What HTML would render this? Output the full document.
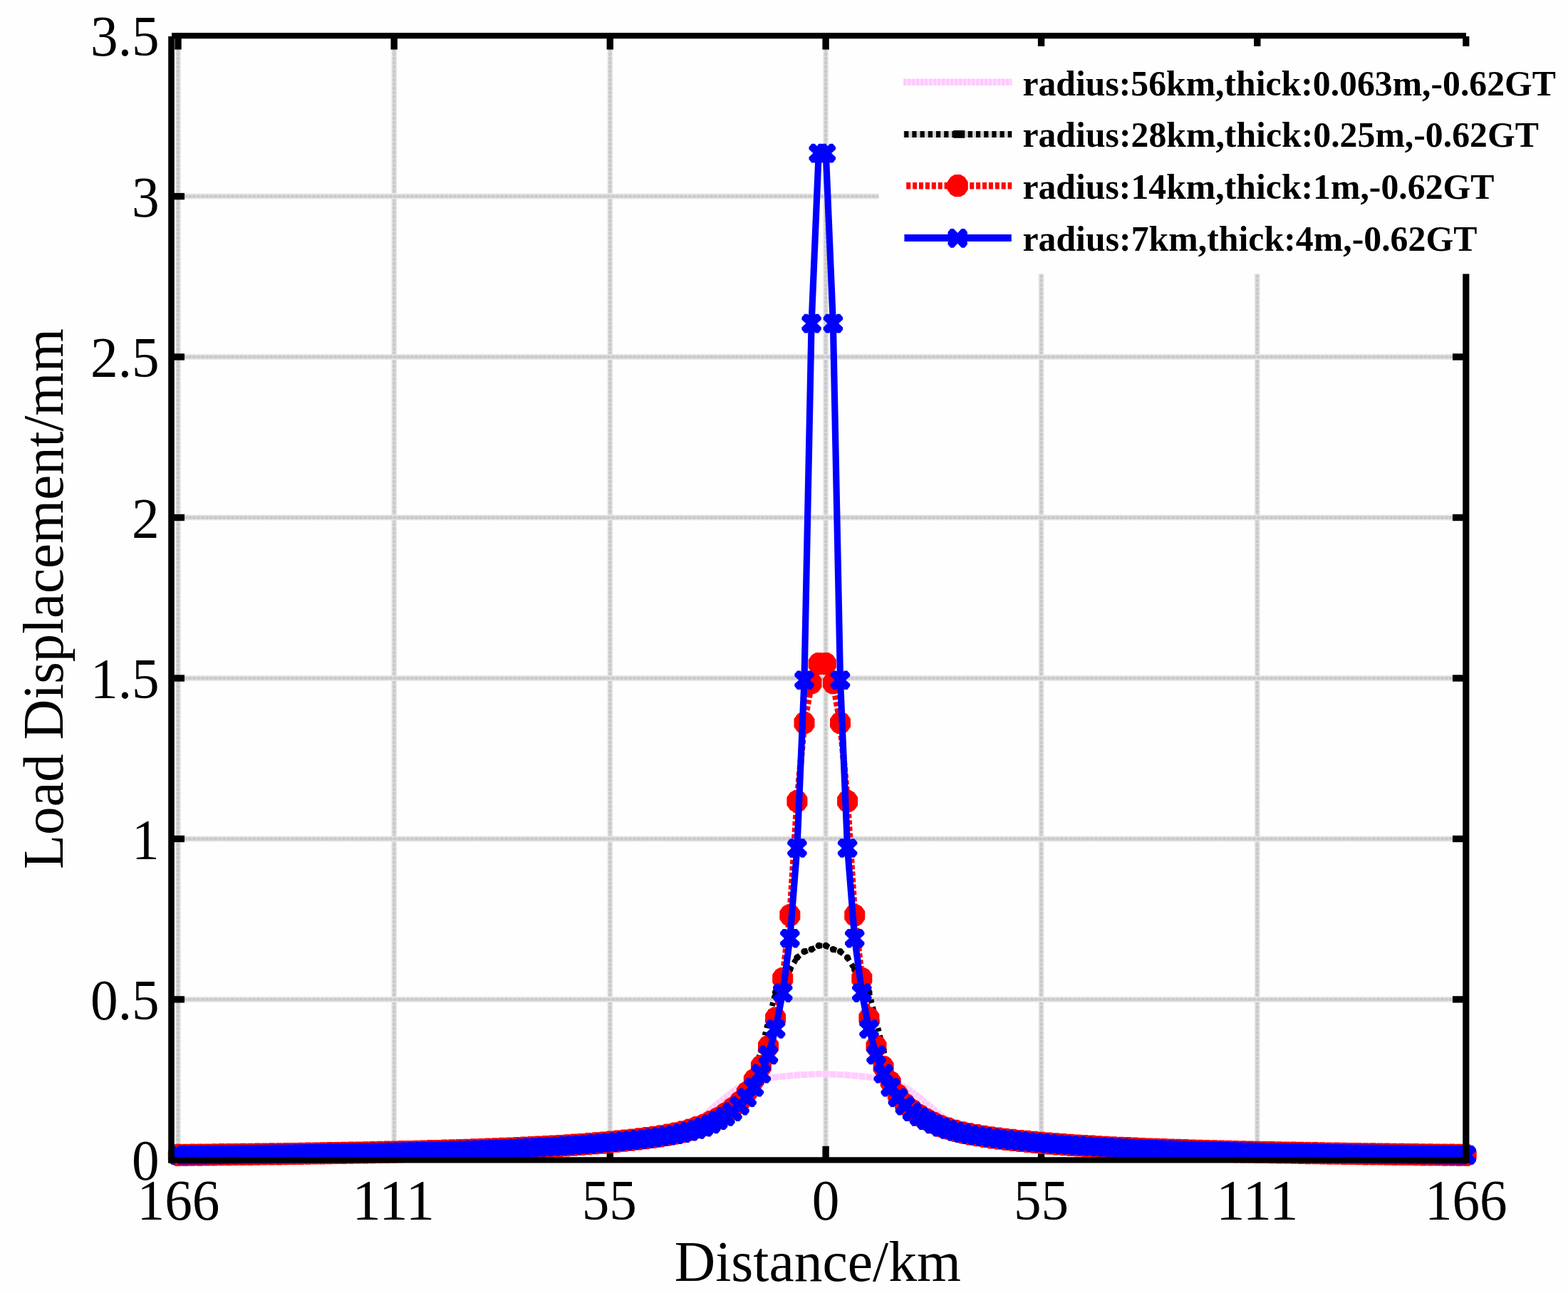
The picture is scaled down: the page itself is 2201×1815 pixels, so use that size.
<!DOCTYPE html>
<html lang="en"><head><meta charset="utf-8"><title>Load Displacement vs Distance</title>
<style>html,body{margin:0;padding:0;background:#fff}body{width:2201px;height:1815px;overflow:hidden}svg{display:block;filter:blur(0.7px)}text{font-family:"Liberation Serif","Times New Roman",Times,serif;fill:#000}</style></head><body>
<svg width="2201" height="1815" viewBox="0 0 2201 1815">
<rect x="0" y="0" width="2201" height="1815" fill="#fefefe"/>
<defs>
<path id="mx" d="M-13.7,-5.4 L-13.7,-8.6 L-9.8,-13.3 L-5.6,-13.3 L0,-7.4 L5.6,-13.3 L9.8,-13.3 L13.7,-8.6 L13.7,-5.4 L7.9,0 L13.7,5.4 L13.7,8.6 L9.8,13.3 L5.6,13.3 L0,7.4 L-5.6,13.3 L-9.8,13.3 L-13.7,8.6 L-13.7,5.4 L-7.9,0 Z" fill="#0000ff"/>
<path id="mc" d="M-13,-5.2 L-8.8,-11.2 L-3.6,-14.1 L3.6,-14.1 L8.8,-11.2 L13,-5.2 L13,5.2 L8.8,11.2 L3.6,14.1 L-3.6,14.1 L-8.8,11.2 L-13,5.2 Z" fill="#ff0000" stroke="#ff0000" stroke-width="3" stroke-linejoin="round" stroke-dasharray="none"/>
<circle id="md" r="4.7" fill="#000"/>
</defs>
<g fill="none">
<line x1="250.0" y1="50.1" x2="250.0" y2="1628.4" stroke="#e8e8e8" stroke-width="8"/>
<line x1="250.0" y1="50.1" x2="250.0" y2="1628.4" stroke="#d6d6d6" stroke-width="4.4"/>
<line x1="250.0" y1="50.1" x2="250.0" y2="1628.4" stroke="#c9c9c9" stroke-width="4.4" stroke-dasharray="4 2"/>
<line x1="553.2" y1="50.1" x2="553.2" y2="1628.4" stroke="#e8e8e8" stroke-width="8"/>
<line x1="553.2" y1="50.1" x2="553.2" y2="1628.4" stroke="#d6d6d6" stroke-width="4.4"/>
<line x1="553.2" y1="50.1" x2="553.2" y2="1628.4" stroke="#c9c9c9" stroke-width="4.4" stroke-dasharray="4 2"/>
<line x1="856.3" y1="50.1" x2="856.3" y2="1628.4" stroke="#e8e8e8" stroke-width="8"/>
<line x1="856.3" y1="50.1" x2="856.3" y2="1628.4" stroke="#d6d6d6" stroke-width="4.4"/>
<line x1="856.3" y1="50.1" x2="856.3" y2="1628.4" stroke="#c9c9c9" stroke-width="4.4" stroke-dasharray="4 2"/>
<line x1="1159.1" y1="50.1" x2="1159.1" y2="1628.4" stroke="#e8e8e8" stroke-width="8"/>
<line x1="1159.1" y1="50.1" x2="1159.1" y2="1628.4" stroke="#d6d6d6" stroke-width="4.4"/>
<line x1="1159.1" y1="50.1" x2="1159.1" y2="1628.4" stroke="#c9c9c9" stroke-width="4.4" stroke-dasharray="4 2"/>
<line x1="1461.6" y1="50.1" x2="1461.6" y2="1628.4" stroke="#e8e8e8" stroke-width="8"/>
<line x1="1461.6" y1="50.1" x2="1461.6" y2="1628.4" stroke="#d6d6d6" stroke-width="4.4"/>
<line x1="1461.6" y1="50.1" x2="1461.6" y2="1628.4" stroke="#c9c9c9" stroke-width="4.4" stroke-dasharray="4 2"/>
<line x1="1764.8" y1="50.1" x2="1764.8" y2="1628.4" stroke="#e8e8e8" stroke-width="8"/>
<line x1="1764.8" y1="50.1" x2="1764.8" y2="1628.4" stroke="#d6d6d6" stroke-width="4.4"/>
<line x1="1764.8" y1="50.1" x2="1764.8" y2="1628.4" stroke="#c9c9c9" stroke-width="4.4" stroke-dasharray="4 2"/>
<line x1="240.5" y1="1402.9" x2="2057.8" y2="1402.9" stroke="#e8e8e8" stroke-width="8"/>
<line x1="240.5" y1="1402.9" x2="2057.8" y2="1402.9" stroke="#d6d6d6" stroke-width="4.4"/>
<line x1="240.5" y1="1402.9" x2="2057.8" y2="1402.9" stroke="#c9c9c9" stroke-width="4.4" stroke-dasharray="4 2"/>
<line x1="240.5" y1="1177.5" x2="2057.8" y2="1177.5" stroke="#e8e8e8" stroke-width="8"/>
<line x1="240.5" y1="1177.5" x2="2057.8" y2="1177.5" stroke="#d6d6d6" stroke-width="4.4"/>
<line x1="240.5" y1="1177.5" x2="2057.8" y2="1177.5" stroke="#c9c9c9" stroke-width="4.4" stroke-dasharray="4 2"/>
<line x1="240.5" y1="952.0" x2="2057.8" y2="952.0" stroke="#e8e8e8" stroke-width="8"/>
<line x1="240.5" y1="952.0" x2="2057.8" y2="952.0" stroke="#d6d6d6" stroke-width="4.4"/>
<line x1="240.5" y1="952.0" x2="2057.8" y2="952.0" stroke="#c9c9c9" stroke-width="4.4" stroke-dasharray="4 2"/>
<line x1="240.5" y1="726.5" x2="2057.8" y2="726.5" stroke="#e8e8e8" stroke-width="8"/>
<line x1="240.5" y1="726.5" x2="2057.8" y2="726.5" stroke="#d6d6d6" stroke-width="4.4"/>
<line x1="240.5" y1="726.5" x2="2057.8" y2="726.5" stroke="#c9c9c9" stroke-width="4.4" stroke-dasharray="4 2"/>
<line x1="240.5" y1="501.0" x2="2057.8" y2="501.0" stroke="#e8e8e8" stroke-width="8"/>
<line x1="240.5" y1="501.0" x2="2057.8" y2="501.0" stroke="#d6d6d6" stroke-width="4.4"/>
<line x1="240.5" y1="501.0" x2="2057.8" y2="501.0" stroke="#c9c9c9" stroke-width="4.4" stroke-dasharray="4 2"/>
<line x1="240.5" y1="275.6" x2="2057.8" y2="275.6" stroke="#e8e8e8" stroke-width="8"/>
<line x1="240.5" y1="275.6" x2="2057.8" y2="275.6" stroke="#d6d6d6" stroke-width="4.4"/>
<line x1="240.5" y1="275.6" x2="2057.8" y2="275.6" stroke="#c9c9c9" stroke-width="4.4" stroke-dasharray="4 2"/>
</g>
<g stroke="#000" stroke-width="9.4" fill="none">
<line x1="250.0" y1="50.1" x2="250.0" y2="69.5"/>
<line x1="250.0" y1="1628.4" x2="250.0" y2="1608.8"/>
<line x1="553.2" y1="50.1" x2="553.2" y2="69.5"/>
<line x1="553.2" y1="1628.4" x2="553.2" y2="1608.8"/>
<line x1="856.3" y1="50.1" x2="856.3" y2="69.5"/>
<line x1="856.3" y1="1628.4" x2="856.3" y2="1608.8"/>
<line x1="1159.1" y1="50.1" x2="1159.1" y2="69.5"/>
<line x1="1159.1" y1="1628.4" x2="1159.1" y2="1608.8"/>
<line x1="1461.6" y1="50.1" x2="1461.6" y2="69.5"/>
<line x1="1461.6" y1="1628.4" x2="1461.6" y2="1608.8"/>
<line x1="1764.8" y1="50.1" x2="1764.8" y2="69.5"/>
<line x1="1764.8" y1="1628.4" x2="1764.8" y2="1608.8"/>
<line x1="240.5" y1="1402.9" x2="259" y2="1402.9"/>
<line x1="2057.8" y1="1402.9" x2="2039" y2="1402.9"/>
<line x1="240.5" y1="1177.5" x2="259" y2="1177.5"/>
<line x1="2057.8" y1="1177.5" x2="2039" y2="1177.5"/>
<line x1="240.5" y1="952.0" x2="259" y2="952.0"/>
<line x1="2057.8" y1="952.0" x2="2039" y2="952.0"/>
<line x1="240.5" y1="726.5" x2="259" y2="726.5"/>
<line x1="2057.8" y1="726.5" x2="2039" y2="726.5"/>
<line x1="240.5" y1="501.0" x2="259" y2="501.0"/>
<line x1="2057.8" y1="501.0" x2="2039" y2="501.0"/>
<line x1="240.5" y1="275.6" x2="259" y2="275.6"/>
<line x1="2057.8" y1="275.6" x2="2039" y2="275.6"/>
</g>
<g fill="none" stroke-linejoin="round">
<polyline points="250.3,1621.4 260.4,1621.3 270.5,1621.2 280.6,1621.1 290.7,1621.0 300.8,1620.9 310.9,1620.8 321.0,1620.7 331.1,1620.5 341.2,1620.4 351.3,1620.3 361.4,1620.2 371.5,1620.1 381.6,1619.9 391.7,1619.8 401.8,1619.7 411.9,1619.5 422.0,1619.4 432.1,1619.3 442.2,1619.1 452.3,1619.0 462.4,1618.8 472.5,1618.6 482.6,1618.5 492.7,1618.3 502.8,1618.1 512.9,1617.9 523.0,1617.7 533.1,1617.5 543.2,1617.3 553.3,1617.1 563.4,1616.9 573.5,1616.7 583.6,1616.4 593.7,1616.2 603.8,1615.9 613.9,1615.6 624.0,1615.4 634.1,1615.1 644.2,1614.8 654.3,1614.5 664.4,1614.1 674.5,1613.8 684.6,1613.4 694.7,1613.1 704.8,1612.7 714.9,1612.3 725.0,1611.8 735.1,1611.4 745.2,1610.9 755.3,1610.4 765.4,1609.9 775.5,1609.4 785.6,1608.8 795.7,1608.2 805.8,1607.6 815.9,1606.9 826.0,1606.1 836.1,1605.3 846.2,1604.4 856.3,1603.4 866.4,1602.3 876.5,1601.0 886.6,1599.6 896.7,1598.1 906.8,1596.4 916.9,1594.5 927.0,1592.5 937.1,1590.2 947.2,1587.5 957.3,1584.1 967.4,1579.4 977.5,1573.2 987.6,1565.6 997.7,1557.4 1007.8,1548.9 1017.9,1540.6 1028.0,1532.7 1038.1,1526.0 1048.2,1521.8 1058.3,1518.6 1068.4,1515.9 1078.5,1513.4 1088.6,1512.0 1098.7,1511.0 1108.8,1510.0 1118.9,1509.0 1129.0,1508.5 1139.1,1508.2 1149.2,1507.7 1159.3,1507.7 1169.4,1508.2 1179.5,1508.5 1189.6,1509.0 1199.7,1510.0 1209.8,1511.0 1219.9,1512.0 1230.0,1513.4 1240.1,1515.9 1250.2,1518.6 1260.3,1521.8 1270.4,1526.0 1280.5,1532.7 1290.6,1540.6 1300.7,1548.9 1310.8,1557.4 1320.9,1565.6 1331.0,1573.2 1341.1,1579.4 1351.2,1584.1 1361.3,1587.5 1371.4,1590.2 1381.5,1592.5 1391.6,1594.5 1401.7,1596.4 1411.8,1598.1 1421.9,1599.6 1432.0,1601.0 1442.1,1602.3 1452.2,1603.4 1462.3,1604.4 1472.4,1605.3 1482.5,1606.1 1492.6,1606.9 1502.7,1607.6 1512.8,1608.2 1522.9,1608.8 1533.0,1609.4 1543.1,1609.9 1553.2,1610.4 1563.3,1610.9 1573.4,1611.4 1583.5,1611.8 1593.6,1612.3 1603.7,1612.7 1613.8,1613.1 1623.9,1613.4 1634.0,1613.8 1644.1,1614.1 1654.2,1614.5 1664.3,1614.8 1674.4,1615.1 1684.5,1615.4 1694.6,1615.6 1704.7,1615.9 1714.8,1616.2 1724.9,1616.4 1735.0,1616.7 1745.1,1616.9 1755.2,1617.1 1765.3,1617.3 1775.4,1617.5 1785.5,1617.7 1795.6,1617.9 1805.7,1618.1 1815.8,1618.3 1825.9,1618.5 1836.0,1618.6 1846.1,1618.8 1856.2,1619.0 1866.3,1619.1 1876.4,1619.3 1886.5,1619.4 1896.6,1619.5 1906.7,1619.7 1916.8,1619.8 1926.9,1619.9 1937.0,1620.1 1947.1,1620.2 1957.2,1620.3 1967.3,1620.4 1977.4,1620.5 1987.5,1620.7 1997.6,1620.8 2007.7,1620.9 2017.8,1621.0 2027.9,1621.1 2038.0,1621.2 2048.1,1621.3 2058.2,1621.4" stroke="#ffe0ff" stroke-width="8.8"/>
<path d="M250.3,1621.4L260.4,1621.3M260.4,1621.3L270.5,1621.2M270.5,1621.2L280.6,1621.1M280.6,1621.1L290.7,1621.0M290.7,1621.0L300.8,1620.9M300.8,1620.9L310.9,1620.8M310.9,1620.8L321.0,1620.7M321.0,1620.7L331.1,1620.5M331.1,1620.5L341.2,1620.4M341.2,1620.4L351.3,1620.3M351.3,1620.3L361.4,1620.2M361.4,1620.2L371.5,1620.1M371.5,1620.1L381.6,1619.9M381.6,1619.9L391.7,1619.8M391.7,1619.8L401.8,1619.7M401.8,1619.7L411.9,1619.5M411.9,1619.5L422.0,1619.4M422.0,1619.4L432.1,1619.3M432.1,1619.3L442.2,1619.1M442.2,1619.1L452.3,1619.0M452.3,1619.0L462.4,1618.8M462.4,1618.8L472.5,1618.6M472.5,1618.6L482.6,1618.5M482.6,1618.5L492.7,1618.3M492.7,1618.3L502.8,1618.1M502.8,1618.1L512.9,1617.9M512.9,1617.9L523.0,1617.7M523.0,1617.7L533.1,1617.5M533.1,1617.5L543.2,1617.3M543.2,1617.3L553.3,1617.1M553.3,1617.1L563.4,1616.9M563.4,1616.9L573.5,1616.7M573.5,1616.7L583.6,1616.4M583.6,1616.4L593.7,1616.2M593.7,1616.2L603.8,1615.9M603.8,1615.9L613.9,1615.6M613.9,1615.6L624.0,1615.4M624.0,1615.4L634.1,1615.1M634.1,1615.1L644.2,1614.8M644.2,1614.8L654.3,1614.5M654.3,1614.5L664.4,1614.1M664.4,1614.1L674.5,1613.8M674.5,1613.8L684.6,1613.4M684.6,1613.4L694.7,1613.1M694.7,1613.1L704.8,1612.7M704.8,1612.7L714.9,1612.3M714.9,1612.3L725.0,1611.8M725.0,1611.8L735.1,1611.4M735.1,1611.4L745.2,1610.9M745.2,1610.9L755.3,1610.4M755.3,1610.4L765.4,1609.9M765.4,1609.9L775.5,1609.4M775.5,1609.4L785.6,1608.8M785.6,1608.8L795.7,1608.2M795.7,1608.2L805.8,1607.6M805.8,1607.6L815.9,1606.9M815.9,1606.9L826.0,1606.1M826.0,1606.1L836.1,1605.3M836.1,1605.3L846.2,1604.4M846.2,1604.4L856.3,1603.4M856.3,1603.4L866.4,1602.3M866.4,1602.3L876.5,1601.0M876.5,1601.0L886.6,1599.6M886.6,1599.6L896.7,1598.1M896.7,1598.1L906.8,1596.4M906.8,1596.4L916.9,1594.5M916.9,1594.5L927.0,1592.5M927.0,1592.5L937.1,1590.2M937.1,1590.2L947.2,1587.5M947.2,1587.5L957.3,1584.1M957.3,1584.1L967.4,1579.4M967.4,1579.4L977.5,1573.2M977.5,1573.2L987.6,1565.6M987.6,1565.6L997.7,1557.4M997.7,1557.4L1007.8,1548.9M1007.8,1548.9L1017.9,1540.6M1017.9,1540.6L1028.0,1532.7M1028.0,1532.7L1038.1,1526.0M1038.1,1526.0L1048.2,1521.8M1048.2,1521.8L1058.3,1518.6M1058.3,1518.6L1068.4,1515.9M1068.4,1515.9L1078.5,1513.4M1078.5,1513.4L1088.6,1512.0M1088.6,1512.0L1098.7,1511.0M1098.7,1511.0L1108.8,1510.0M1108.8,1510.0L1118.9,1509.0M1118.9,1509.0L1129.0,1508.5M1129.0,1508.5L1139.1,1508.2M1139.1,1508.2L1149.2,1507.7M1149.2,1507.7L1159.3,1507.7M1159.3,1507.7L1169.4,1508.2M1169.4,1508.2L1179.5,1508.5M1179.5,1508.5L1189.6,1509.0M1189.6,1509.0L1199.7,1510.0M1199.7,1510.0L1209.8,1511.0M1209.8,1511.0L1219.9,1512.0M1219.9,1512.0L1230.0,1513.4M1230.0,1513.4L1240.1,1515.9M1240.1,1515.9L1250.2,1518.6M1250.2,1518.6L1260.3,1521.8M1260.3,1521.8L1270.4,1526.0M1270.4,1526.0L1280.5,1532.7M1280.5,1532.7L1290.6,1540.6M1290.6,1540.6L1300.7,1548.9M1300.7,1548.9L1310.8,1557.4M1310.8,1557.4L1320.9,1565.6M1320.9,1565.6L1331.0,1573.2M1331.0,1573.2L1341.1,1579.4M1341.1,1579.4L1351.2,1584.1M1351.2,1584.1L1361.3,1587.5M1361.3,1587.5L1371.4,1590.2M1371.4,1590.2L1381.5,1592.5M1381.5,1592.5L1391.6,1594.5M1391.6,1594.5L1401.7,1596.4M1401.7,1596.4L1411.8,1598.1M1411.8,1598.1L1421.9,1599.6M1421.9,1599.6L1432.0,1601.0M1432.0,1601.0L1442.1,1602.3M1442.1,1602.3L1452.2,1603.4M1452.2,1603.4L1462.3,1604.4M1462.3,1604.4L1472.4,1605.3M1472.4,1605.3L1482.5,1606.1M1482.5,1606.1L1492.6,1606.9M1492.6,1606.9L1502.7,1607.6M1502.7,1607.6L1512.8,1608.2M1512.8,1608.2L1522.9,1608.8M1522.9,1608.8L1533.0,1609.4M1533.0,1609.4L1543.1,1609.9M1543.1,1609.9L1553.2,1610.4M1553.2,1610.4L1563.3,1610.9M1563.3,1610.9L1573.4,1611.4M1573.4,1611.4L1583.5,1611.8M1583.5,1611.8L1593.6,1612.3M1593.6,1612.3L1603.7,1612.7M1603.7,1612.7L1613.8,1613.1M1613.8,1613.1L1623.9,1613.4M1623.9,1613.4L1634.0,1613.8M1634.0,1613.8L1644.1,1614.1M1644.1,1614.1L1654.2,1614.5M1654.2,1614.5L1664.3,1614.8M1664.3,1614.8L1674.4,1615.1M1674.4,1615.1L1684.5,1615.4M1684.5,1615.4L1694.6,1615.6M1694.6,1615.6L1704.7,1615.9M1704.7,1615.9L1714.8,1616.2M1714.8,1616.2L1724.9,1616.4M1724.9,1616.4L1735.0,1616.7M1735.0,1616.7L1745.1,1616.9M1745.1,1616.9L1755.2,1617.1M1755.2,1617.1L1765.3,1617.3M1765.3,1617.3L1775.4,1617.5M1775.4,1617.5L1785.5,1617.7M1785.5,1617.7L1795.6,1617.9M1795.6,1617.9L1805.7,1618.1M1805.7,1618.1L1815.8,1618.3M1815.8,1618.3L1825.9,1618.5M1825.9,1618.5L1836.0,1618.6M1836.0,1618.6L1846.1,1618.8M1846.1,1618.8L1856.2,1619.0M1856.2,1619.0L1866.3,1619.1M1866.3,1619.1L1876.4,1619.3M1876.4,1619.3L1886.5,1619.4M1886.5,1619.4L1896.6,1619.5M1896.6,1619.5L1906.7,1619.7M1906.7,1619.7L1916.8,1619.8M1916.8,1619.8L1926.9,1619.9M1926.9,1619.9L1937.0,1620.1M1937.0,1620.1L1947.1,1620.2M1947.1,1620.2L1957.2,1620.3M1957.2,1620.3L1967.3,1620.4M1967.3,1620.4L1977.4,1620.5M1977.4,1620.5L1987.5,1620.7M1987.5,1620.7L1997.6,1620.8M1997.6,1620.8L2007.7,1620.9M2007.7,1620.9L2017.8,1621.0M2017.8,1621.0L2027.9,1621.1M2027.9,1621.1L2038.0,1621.2M2038.0,1621.2L2048.1,1621.3M2048.1,1621.3L2058.2,1621.4" stroke="#ffccff" stroke-width="8.8" stroke-dasharray="4 2"/>
<path d="M250.3,1621.4L260.4,1621.3M260.4,1621.3L270.5,1621.2M270.5,1621.2L280.6,1621.1M280.6,1621.1L290.7,1621.0M290.7,1621.0L300.8,1620.9M300.8,1620.9L310.9,1620.8M310.9,1620.8L321.0,1620.6M321.0,1620.6L331.1,1620.5M331.1,1620.5L341.2,1620.4M341.2,1620.4L351.3,1620.3M351.3,1620.3L361.4,1620.2M361.4,1620.2L371.5,1620.1M371.5,1620.1L381.6,1619.9M381.6,1619.9L391.7,1619.8M391.7,1619.8L401.8,1619.7M401.8,1619.7L411.9,1619.5M411.9,1619.5L422.0,1619.4M422.0,1619.4L432.1,1619.2M432.1,1619.2L442.2,1619.1M442.2,1619.1L452.3,1618.9M452.3,1618.9L462.4,1618.8M462.4,1618.8L472.5,1618.6M472.5,1618.6L482.6,1618.4M482.6,1618.4L492.7,1618.3M492.7,1618.3L502.8,1618.1M502.8,1618.1L512.9,1617.9M512.9,1617.9L523.0,1617.7M523.0,1617.7L533.1,1617.5M533.1,1617.5L543.2,1617.3M543.2,1617.3L553.3,1617.1M553.3,1617.1L563.4,1616.9M563.4,1616.9L573.5,1616.6M573.5,1616.6L583.6,1616.4M583.6,1616.4L593.7,1616.1M593.7,1616.1L603.8,1615.9M603.8,1615.9L613.9,1615.6M613.9,1615.6L624.0,1615.3M624.0,1615.3L634.1,1615.1M634.1,1615.1L644.2,1614.8M644.2,1614.8L654.3,1614.4M654.3,1614.4L664.4,1614.1M664.4,1614.1L674.5,1613.8M674.5,1613.8L684.6,1613.4M684.6,1613.4L694.7,1613.1M694.7,1613.1L704.8,1612.7M704.8,1612.7L714.9,1612.3M714.9,1612.3L725.0,1611.8M725.0,1611.8L735.1,1611.4M735.1,1611.4L745.2,1610.9M745.2,1610.9L755.3,1610.4M755.3,1610.4L765.4,1609.9M765.4,1609.9L775.5,1609.4M775.5,1609.4L785.6,1608.8M785.6,1608.8L795.7,1608.2M795.7,1608.2L805.8,1607.5M805.8,1607.5L815.9,1606.8M815.9,1606.8L826.0,1606.1M826.0,1606.1L836.1,1605.3M836.1,1605.3L846.2,1604.5M846.2,1604.5L856.3,1603.6M856.3,1603.6L866.4,1602.6M866.4,1602.6L876.5,1601.6M876.5,1601.6L886.6,1600.5M886.6,1600.5L896.7,1599.4M896.7,1599.4L906.8,1598.1M906.8,1598.1L916.9,1596.7M916.9,1596.7L927.0,1595.2M927.0,1595.2L937.1,1593.5M937.1,1593.5L947.2,1591.5M947.2,1591.5L957.3,1589.3M957.3,1589.3L967.4,1586.7M967.4,1586.7L977.5,1583.6M977.5,1583.6L987.6,1580.0M987.6,1580.0L997.7,1575.5M997.7,1575.5L1007.8,1569.8M1007.8,1569.8L1017.9,1562.1M1017.9,1562.1L1028.0,1552.1M1028.0,1552.1L1038.1,1540.3M1038.1,1540.3L1048.2,1526.6M1048.2,1526.6L1058.3,1506.1M1058.3,1506.1L1068.4,1474.0M1068.4,1474.0L1078.5,1432.7M1078.5,1432.7L1088.6,1392.9M1088.6,1392.9L1098.7,1374.5M1098.7,1374.5L1108.8,1360.9M1108.8,1360.9L1118.9,1344.2M1118.9,1344.2L1129.0,1335.8M1129.0,1335.8L1139.1,1332.6M1139.1,1332.6L1149.2,1327.5M1149.2,1327.5L1159.3,1327.5M1159.3,1327.5L1169.4,1332.6M1169.4,1332.6L1179.5,1335.8M1179.5,1335.8L1189.6,1344.2M1189.6,1344.2L1199.7,1360.9M1199.7,1360.9L1209.8,1374.5M1209.8,1374.5L1219.9,1392.9M1219.9,1392.9L1230.0,1432.7M1230.0,1432.7L1240.1,1474.0M1240.1,1474.0L1250.2,1506.1M1250.2,1506.1L1260.3,1526.6M1260.3,1526.6L1270.4,1540.3M1270.4,1540.3L1280.5,1552.1M1280.5,1552.1L1290.6,1562.1M1290.6,1562.1L1300.7,1569.8M1300.7,1569.8L1310.8,1575.5M1310.8,1575.5L1320.9,1580.0M1320.9,1580.0L1331.0,1583.6M1331.0,1583.6L1341.1,1586.7M1341.1,1586.7L1351.2,1589.3M1351.2,1589.3L1361.3,1591.5M1361.3,1591.5L1371.4,1593.5M1371.4,1593.5L1381.5,1595.2M1381.5,1595.2L1391.6,1596.7M1391.6,1596.7L1401.7,1598.1M1401.7,1598.1L1411.8,1599.4M1411.8,1599.4L1421.9,1600.5M1421.9,1600.5L1432.0,1601.6M1432.0,1601.6L1442.1,1602.6M1442.1,1602.6L1452.2,1603.6M1452.2,1603.6L1462.3,1604.5M1462.3,1604.5L1472.4,1605.3M1472.4,1605.3L1482.5,1606.1M1482.5,1606.1L1492.6,1606.8M1492.6,1606.8L1502.7,1607.5M1502.7,1607.5L1512.8,1608.2M1512.8,1608.2L1522.9,1608.8M1522.9,1608.8L1533.0,1609.4M1533.0,1609.4L1543.1,1609.9M1543.1,1609.9L1553.2,1610.4M1553.2,1610.4L1563.3,1610.9M1563.3,1610.9L1573.4,1611.4M1573.4,1611.4L1583.5,1611.8M1583.5,1611.8L1593.6,1612.3M1593.6,1612.3L1603.7,1612.7M1603.7,1612.7L1613.8,1613.1M1613.8,1613.1L1623.9,1613.4M1623.9,1613.4L1634.0,1613.8M1634.0,1613.8L1644.1,1614.1M1644.1,1614.1L1654.2,1614.4M1654.2,1614.4L1664.3,1614.8M1664.3,1614.8L1674.4,1615.1M1674.4,1615.1L1684.5,1615.3M1684.5,1615.3L1694.6,1615.6M1694.6,1615.6L1704.7,1615.9M1704.7,1615.9L1714.8,1616.1M1714.8,1616.1L1724.9,1616.4M1724.9,1616.4L1735.0,1616.6M1735.0,1616.6L1745.1,1616.9M1745.1,1616.9L1755.2,1617.1M1755.2,1617.1L1765.3,1617.3M1765.3,1617.3L1775.4,1617.5M1775.4,1617.5L1785.5,1617.7M1785.5,1617.7L1795.6,1617.9M1795.6,1617.9L1805.7,1618.1M1805.7,1618.1L1815.8,1618.3M1815.8,1618.3L1825.9,1618.4M1825.9,1618.4L1836.0,1618.6M1836.0,1618.6L1846.1,1618.8M1846.1,1618.8L1856.2,1618.9M1856.2,1618.9L1866.3,1619.1M1866.3,1619.1L1876.4,1619.2M1876.4,1619.2L1886.5,1619.4M1886.5,1619.4L1896.6,1619.5M1896.6,1619.5L1906.7,1619.7M1906.7,1619.7L1916.8,1619.8M1916.8,1619.8L1926.9,1619.9M1926.9,1619.9L1937.0,1620.1M1937.0,1620.1L1947.1,1620.2M1947.1,1620.2L1957.2,1620.3M1957.2,1620.3L1967.3,1620.4M1967.3,1620.4L1977.4,1620.5M1977.4,1620.5L1987.5,1620.6M1987.5,1620.6L1997.6,1620.8M1997.6,1620.8L2007.7,1620.9M2007.7,1620.9L2017.8,1621.0M2017.8,1621.0L2027.9,1621.1M2027.9,1621.1L2038.0,1621.2M2038.0,1621.2L2048.1,1621.3M2048.1,1621.3L2058.2,1621.4" stroke="#000" stroke-width="7.6" stroke-dasharray="5 5.6"/>
<use href="#md" x="250.3" y="1621.4"/><use href="#md" x="260.4" y="1621.3"/><use href="#md" x="270.5" y="1621.2"/><use href="#md" x="280.6" y="1621.1"/><use href="#md" x="290.7" y="1621.0"/><use href="#md" x="300.8" y="1620.9"/><use href="#md" x="310.9" y="1620.8"/><use href="#md" x="321.0" y="1620.6"/><use href="#md" x="331.1" y="1620.5"/><use href="#md" x="341.2" y="1620.4"/><use href="#md" x="351.3" y="1620.3"/><use href="#md" x="361.4" y="1620.2"/><use href="#md" x="371.5" y="1620.1"/><use href="#md" x="381.6" y="1619.9"/><use href="#md" x="391.7" y="1619.8"/><use href="#md" x="401.8" y="1619.7"/><use href="#md" x="411.9" y="1619.5"/><use href="#md" x="422.0" y="1619.4"/><use href="#md" x="432.1" y="1619.2"/><use href="#md" x="442.2" y="1619.1"/><use href="#md" x="452.3" y="1618.9"/><use href="#md" x="462.4" y="1618.8"/><use href="#md" x="472.5" y="1618.6"/><use href="#md" x="482.6" y="1618.4"/><use href="#md" x="492.7" y="1618.3"/><use href="#md" x="502.8" y="1618.1"/><use href="#md" x="512.9" y="1617.9"/><use href="#md" x="523.0" y="1617.7"/><use href="#md" x="533.1" y="1617.5"/><use href="#md" x="543.2" y="1617.3"/><use href="#md" x="553.3" y="1617.1"/><use href="#md" x="563.4" y="1616.9"/><use href="#md" x="573.5" y="1616.6"/><use href="#md" x="583.6" y="1616.4"/><use href="#md" x="593.7" y="1616.1"/><use href="#md" x="603.8" y="1615.9"/><use href="#md" x="613.9" y="1615.6"/><use href="#md" x="624.0" y="1615.3"/><use href="#md" x="634.1" y="1615.1"/><use href="#md" x="644.2" y="1614.8"/><use href="#md" x="654.3" y="1614.4"/><use href="#md" x="664.4" y="1614.1"/><use href="#md" x="674.5" y="1613.8"/><use href="#md" x="684.6" y="1613.4"/><use href="#md" x="694.7" y="1613.1"/><use href="#md" x="704.8" y="1612.7"/><use href="#md" x="714.9" y="1612.3"/><use href="#md" x="725.0" y="1611.8"/><use href="#md" x="735.1" y="1611.4"/><use href="#md" x="745.2" y="1610.9"/><use href="#md" x="755.3" y="1610.4"/><use href="#md" x="765.4" y="1609.9"/><use href="#md" x="775.5" y="1609.4"/><use href="#md" x="785.6" y="1608.8"/><use href="#md" x="795.7" y="1608.2"/><use href="#md" x="805.8" y="1607.5"/><use href="#md" x="815.9" y="1606.8"/><use href="#md" x="826.0" y="1606.1"/><use href="#md" x="836.1" y="1605.3"/><use href="#md" x="846.2" y="1604.5"/><use href="#md" x="856.3" y="1603.6"/><use href="#md" x="866.4" y="1602.6"/><use href="#md" x="876.5" y="1601.6"/><use href="#md" x="886.6" y="1600.5"/><use href="#md" x="896.7" y="1599.4"/><use href="#md" x="906.8" y="1598.1"/><use href="#md" x="916.9" y="1596.7"/><use href="#md" x="927.0" y="1595.2"/><use href="#md" x="937.1" y="1593.5"/><use href="#md" x="947.2" y="1591.5"/><use href="#md" x="957.3" y="1589.3"/><use href="#md" x="967.4" y="1586.7"/><use href="#md" x="977.5" y="1583.6"/><use href="#md" x="987.6" y="1580.0"/><use href="#md" x="997.7" y="1575.5"/><use href="#md" x="1007.8" y="1569.8"/><use href="#md" x="1017.9" y="1562.1"/><use href="#md" x="1028.0" y="1552.1"/><use href="#md" x="1038.1" y="1540.3"/><use href="#md" x="1048.2" y="1526.6"/><use href="#md" x="1058.3" y="1506.1"/><use href="#md" x="1068.4" y="1474.0"/><use href="#md" x="1078.5" y="1432.7"/><use href="#md" x="1088.6" y="1392.9"/><use href="#md" x="1098.7" y="1374.5"/><use href="#md" x="1108.8" y="1360.9"/><use href="#md" x="1118.9" y="1344.2"/><use href="#md" x="1129.0" y="1335.8"/><use href="#md" x="1139.1" y="1332.6"/><use href="#md" x="1149.2" y="1327.5"/><use href="#md" x="1159.3" y="1327.5"/><use href="#md" x="1169.4" y="1332.6"/><use href="#md" x="1179.5" y="1335.8"/><use href="#md" x="1189.6" y="1344.2"/><use href="#md" x="1199.7" y="1360.9"/><use href="#md" x="1209.8" y="1374.5"/><use href="#md" x="1219.9" y="1392.9"/><use href="#md" x="1230.0" y="1432.7"/><use href="#md" x="1240.1" y="1474.0"/><use href="#md" x="1250.2" y="1506.1"/><use href="#md" x="1260.3" y="1526.6"/><use href="#md" x="1270.4" y="1540.3"/><use href="#md" x="1280.5" y="1552.1"/><use href="#md" x="1290.6" y="1562.1"/><use href="#md" x="1300.7" y="1569.8"/><use href="#md" x="1310.8" y="1575.5"/><use href="#md" x="1320.9" y="1580.0"/><use href="#md" x="1331.0" y="1583.6"/><use href="#md" x="1341.1" y="1586.7"/><use href="#md" x="1351.2" y="1589.3"/><use href="#md" x="1361.3" y="1591.5"/><use href="#md" x="1371.4" y="1593.5"/><use href="#md" x="1381.5" y="1595.2"/><use href="#md" x="1391.6" y="1596.7"/><use href="#md" x="1401.7" y="1598.1"/><use href="#md" x="1411.8" y="1599.4"/><use href="#md" x="1421.9" y="1600.5"/><use href="#md" x="1432.0" y="1601.6"/><use href="#md" x="1442.1" y="1602.6"/><use href="#md" x="1452.2" y="1603.6"/><use href="#md" x="1462.3" y="1604.5"/><use href="#md" x="1472.4" y="1605.3"/><use href="#md" x="1482.5" y="1606.1"/><use href="#md" x="1492.6" y="1606.8"/><use href="#md" x="1502.7" y="1607.5"/><use href="#md" x="1512.8" y="1608.2"/><use href="#md" x="1522.9" y="1608.8"/><use href="#md" x="1533.0" y="1609.4"/><use href="#md" x="1543.1" y="1609.9"/><use href="#md" x="1553.2" y="1610.4"/><use href="#md" x="1563.3" y="1610.9"/><use href="#md" x="1573.4" y="1611.4"/><use href="#md" x="1583.5" y="1611.8"/><use href="#md" x="1593.6" y="1612.3"/><use href="#md" x="1603.7" y="1612.7"/><use href="#md" x="1613.8" y="1613.1"/><use href="#md" x="1623.9" y="1613.4"/><use href="#md" x="1634.0" y="1613.8"/><use href="#md" x="1644.1" y="1614.1"/><use href="#md" x="1654.2" y="1614.4"/><use href="#md" x="1664.3" y="1614.8"/><use href="#md" x="1674.4" y="1615.1"/><use href="#md" x="1684.5" y="1615.3"/><use href="#md" x="1694.6" y="1615.6"/><use href="#md" x="1704.7" y="1615.9"/><use href="#md" x="1714.8" y="1616.1"/><use href="#md" x="1724.9" y="1616.4"/><use href="#md" x="1735.0" y="1616.6"/><use href="#md" x="1745.1" y="1616.9"/><use href="#md" x="1755.2" y="1617.1"/><use href="#md" x="1765.3" y="1617.3"/><use href="#md" x="1775.4" y="1617.5"/><use href="#md" x="1785.5" y="1617.7"/><use href="#md" x="1795.6" y="1617.9"/><use href="#md" x="1805.7" y="1618.1"/><use href="#md" x="1815.8" y="1618.3"/><use href="#md" x="1825.9" y="1618.4"/><use href="#md" x="1836.0" y="1618.6"/><use href="#md" x="1846.1" y="1618.8"/><use href="#md" x="1856.2" y="1618.9"/><use href="#md" x="1866.3" y="1619.1"/><use href="#md" x="1876.4" y="1619.2"/><use href="#md" x="1886.5" y="1619.4"/><use href="#md" x="1896.6" y="1619.5"/><use href="#md" x="1906.7" y="1619.7"/><use href="#md" x="1916.8" y="1619.8"/><use href="#md" x="1926.9" y="1619.9"/><use href="#md" x="1937.0" y="1620.1"/><use href="#md" x="1947.1" y="1620.2"/><use href="#md" x="1957.2" y="1620.3"/><use href="#md" x="1967.3" y="1620.4"/><use href="#md" x="1977.4" y="1620.5"/><use href="#md" x="1987.5" y="1620.6"/><use href="#md" x="1997.6" y="1620.8"/><use href="#md" x="2007.7" y="1620.9"/><use href="#md" x="2017.8" y="1621.0"/><use href="#md" x="2027.9" y="1621.1"/><use href="#md" x="2038.0" y="1621.2"/><use href="#md" x="2048.1" y="1621.3"/><use href="#md" x="2058.2" y="1621.4"/>
<path d="M250.3,1621.4L260.4,1621.3M260.4,1621.3L270.5,1621.2M270.5,1621.2L280.6,1621.1M280.6,1621.1L290.7,1621.0M290.7,1621.0L300.8,1620.8M300.8,1620.8L310.9,1620.7M310.9,1620.7L321.0,1620.6M321.0,1620.6L331.1,1620.5M331.1,1620.5L341.2,1620.4M341.2,1620.4L351.3,1620.3M351.3,1620.3L361.4,1620.2M361.4,1620.2L371.5,1620.0M371.5,1620.0L381.6,1619.9M381.6,1619.9L391.7,1619.8M391.7,1619.8L401.8,1619.6M401.8,1619.6L411.9,1619.5M411.9,1619.5L422.0,1619.3M422.0,1619.3L432.1,1619.2M432.1,1619.2L442.2,1619.0M442.2,1619.0L452.3,1618.9M452.3,1618.9L462.4,1618.7M462.4,1618.7L472.5,1618.5M472.5,1618.5L482.6,1618.4M482.6,1618.4L492.7,1618.2M492.7,1618.2L502.8,1618.0M502.8,1618.0L512.9,1617.8M512.9,1617.8L523.0,1617.6M523.0,1617.6L533.1,1617.4M533.1,1617.4L543.2,1617.2M543.2,1617.2L553.3,1617.0M553.3,1617.0L563.4,1616.7M563.4,1616.7L573.5,1616.5M573.5,1616.5L583.6,1616.3M583.6,1616.3L593.7,1616.0M593.7,1616.0L603.8,1615.7M603.8,1615.7L613.9,1615.5M613.9,1615.5L624.0,1615.2M624.0,1615.2L634.1,1614.9M634.1,1614.9L644.2,1614.6M644.2,1614.6L654.3,1614.3M654.3,1614.3L664.4,1613.9M664.4,1613.9L674.5,1613.6M674.5,1613.6L684.6,1613.2M684.6,1613.2L694.7,1612.8M694.7,1612.8L704.8,1612.4M704.8,1612.4L714.9,1612.0M714.9,1612.0L725.0,1611.6M725.0,1611.6L735.1,1611.1M735.1,1611.1L745.2,1610.6M745.2,1610.6L755.3,1610.1M755.3,1610.1L765.4,1609.6M765.4,1609.6L775.5,1609.0M775.5,1609.0L785.6,1608.5M785.6,1608.5L795.7,1607.8M795.7,1607.8L805.8,1607.2M805.8,1607.2L815.9,1606.5M815.9,1606.5L826.0,1605.7M826.0,1605.7L836.1,1604.9M836.1,1604.9L846.2,1604.1M846.2,1604.1L856.3,1603.1M856.3,1603.1L866.4,1602.2M866.4,1602.2L876.5,1601.1M876.5,1601.1L886.6,1600.1M886.6,1600.1L896.7,1598.9M896.7,1598.9L906.8,1597.7M906.8,1597.7L916.9,1596.3M916.9,1596.3L927.0,1594.8M927.0,1594.8L937.1,1593.1M937.1,1593.1L947.2,1591.1M947.2,1591.1L957.3,1588.9M957.3,1588.9L967.4,1586.2M967.4,1586.2L977.5,1582.7M977.5,1582.7L987.6,1579.4M987.6,1579.4L997.7,1574.5M997.7,1574.5L1007.8,1569.8M1007.8,1569.8L1017.9,1563.4M1017.9,1563.4L1028.0,1556.0M1028.0,1556.0L1038.1,1547.2M1038.1,1547.2L1048.2,1533.7M1048.2,1533.7L1058.3,1516.0M1058.3,1516.0L1068.4,1496.6M1068.4,1496.6L1078.5,1468.8M1078.5,1468.8L1088.6,1429.2M1088.6,1429.2L1098.7,1373.6M1098.7,1373.6L1108.8,1284.8M1108.8,1284.8L1118.9,1124.7M1118.9,1124.7L1129.0,1014.7M1129.0,1014.7L1139.1,958.7M1139.1,958.7L1149.2,931.7M1149.2,931.7L1159.3,931.7M1159.3,931.7L1169.4,958.7M1169.4,958.7L1179.5,1014.7M1179.5,1014.7L1189.6,1124.7M1189.6,1124.7L1199.7,1284.8M1199.7,1284.8L1209.8,1373.6M1209.8,1373.6L1219.9,1429.2M1219.9,1429.2L1230.0,1468.8M1230.0,1468.8L1240.1,1497.7M1240.1,1497.7L1250.2,1519.0M1250.2,1519.0L1260.3,1537.0M1260.3,1537.0L1270.4,1549.9M1270.4,1549.9L1280.5,1558.6M1280.5,1558.6L1290.6,1565.6M1290.6,1565.6L1300.7,1571.4M1300.7,1571.4L1310.8,1576.4M1310.8,1576.4L1320.9,1580.9M1320.9,1580.9L1331.0,1584.2M1331.0,1584.2L1341.1,1587.3M1341.1,1587.3L1351.2,1589.8M1351.2,1589.8L1361.3,1591.9M1361.3,1591.9L1371.4,1593.7M1371.4,1593.7L1381.5,1595.4M1381.5,1595.4L1391.6,1596.8M1391.6,1596.8L1401.7,1598.1M1401.7,1598.1L1411.8,1599.3M1411.8,1599.3L1421.9,1600.4M1421.9,1600.4L1432.0,1601.5M1432.0,1601.5L1442.1,1602.4M1442.1,1602.4L1452.2,1603.4M1452.2,1603.4L1462.3,1604.3M1462.3,1604.3L1472.4,1605.1M1472.4,1605.1L1482.5,1605.9M1482.5,1605.9L1492.6,1606.6M1492.6,1606.6L1502.7,1607.3M1502.7,1607.3L1512.8,1608.0M1512.8,1608.0L1522.9,1608.6M1522.9,1608.6L1533.0,1609.2M1533.0,1609.2L1543.1,1609.8M1543.1,1609.8L1553.2,1610.3M1553.2,1610.3L1563.3,1610.8M1563.3,1610.8L1573.4,1611.3M1573.4,1611.3L1583.5,1611.7M1583.5,1611.7L1593.6,1612.1M1593.6,1612.1L1603.7,1612.6M1603.7,1612.6L1613.8,1613.0M1613.8,1613.0L1623.9,1613.3M1623.9,1613.3L1634.0,1613.7M1634.0,1613.7L1644.1,1614.0M1644.1,1614.0L1654.2,1614.4M1654.2,1614.4L1664.3,1614.7M1664.3,1614.7L1674.4,1615.0M1674.4,1615.0L1684.5,1615.3M1684.5,1615.3L1694.6,1615.6M1694.6,1615.6L1704.7,1615.8M1704.7,1615.8L1714.8,1616.1M1714.8,1616.1L1724.9,1616.3M1724.9,1616.3L1735.0,1616.6M1735.0,1616.6L1745.1,1616.8M1745.1,1616.8L1755.2,1617.0M1755.2,1617.0L1765.3,1617.3M1765.3,1617.3L1775.4,1617.5M1775.4,1617.5L1785.5,1617.7M1785.5,1617.7L1795.6,1617.9M1795.6,1617.9L1805.7,1618.0M1805.7,1618.0L1815.8,1618.2M1815.8,1618.2L1825.9,1618.4M1825.9,1618.4L1836.0,1618.6M1836.0,1618.6L1846.1,1618.7M1846.1,1618.7L1856.2,1618.9M1856.2,1618.9L1866.3,1619.1M1866.3,1619.1L1876.4,1619.2M1876.4,1619.2L1886.5,1619.4M1886.5,1619.4L1896.6,1619.5M1896.6,1619.5L1906.7,1619.7M1906.7,1619.7L1916.8,1619.8M1916.8,1619.8L1926.9,1619.9M1926.9,1619.9L1937.0,1620.0M1937.0,1620.0L1947.1,1620.2M1947.1,1620.2L1957.2,1620.3M1957.2,1620.3L1967.3,1620.4M1967.3,1620.4L1977.4,1620.5M1977.4,1620.5L1987.5,1620.6M1987.5,1620.6L1997.6,1620.8M1997.6,1620.8L2007.7,1620.9M2007.7,1620.9L2017.8,1621.0M2017.8,1621.0L2027.9,1621.1M2027.9,1621.1L2038.0,1621.2M2038.0,1621.2L2048.1,1621.3M2048.1,1621.3L2058.2,1621.4" stroke="#ff0000" stroke-width="9" stroke-dasharray="6 3"/>
<use href="#mc" x="250.3" y="1621.4"/><use href="#mc" x="260.4" y="1621.3"/><use href="#mc" x="270.5" y="1621.2"/><use href="#mc" x="280.6" y="1621.1"/><use href="#mc" x="290.7" y="1621.0"/><use href="#mc" x="300.8" y="1620.8"/><use href="#mc" x="310.9" y="1620.7"/><use href="#mc" x="321.0" y="1620.6"/><use href="#mc" x="331.1" y="1620.5"/><use href="#mc" x="341.2" y="1620.4"/><use href="#mc" x="351.3" y="1620.3"/><use href="#mc" x="361.4" y="1620.2"/><use href="#mc" x="371.5" y="1620.0"/><use href="#mc" x="381.6" y="1619.9"/><use href="#mc" x="391.7" y="1619.8"/><use href="#mc" x="401.8" y="1619.6"/><use href="#mc" x="411.9" y="1619.5"/><use href="#mc" x="422.0" y="1619.3"/><use href="#mc" x="432.1" y="1619.2"/><use href="#mc" x="442.2" y="1619.0"/><use href="#mc" x="452.3" y="1618.9"/><use href="#mc" x="462.4" y="1618.7"/><use href="#mc" x="472.5" y="1618.5"/><use href="#mc" x="482.6" y="1618.4"/><use href="#mc" x="492.7" y="1618.2"/><use href="#mc" x="502.8" y="1618.0"/><use href="#mc" x="512.9" y="1617.8"/><use href="#mc" x="523.0" y="1617.6"/><use href="#mc" x="533.1" y="1617.4"/><use href="#mc" x="543.2" y="1617.2"/><use href="#mc" x="553.3" y="1617.0"/><use href="#mc" x="563.4" y="1616.7"/><use href="#mc" x="573.5" y="1616.5"/><use href="#mc" x="583.6" y="1616.3"/><use href="#mc" x="593.7" y="1616.0"/><use href="#mc" x="603.8" y="1615.7"/><use href="#mc" x="613.9" y="1615.5"/><use href="#mc" x="624.0" y="1615.2"/><use href="#mc" x="634.1" y="1614.9"/><use href="#mc" x="644.2" y="1614.6"/><use href="#mc" x="654.3" y="1614.3"/><use href="#mc" x="664.4" y="1613.9"/><use href="#mc" x="674.5" y="1613.6"/><use href="#mc" x="684.6" y="1613.2"/><use href="#mc" x="694.7" y="1612.8"/><use href="#mc" x="704.8" y="1612.4"/><use href="#mc" x="714.9" y="1612.0"/><use href="#mc" x="725.0" y="1611.6"/><use href="#mc" x="735.1" y="1611.1"/><use href="#mc" x="745.2" y="1610.6"/><use href="#mc" x="755.3" y="1610.1"/><use href="#mc" x="765.4" y="1609.6"/><use href="#mc" x="775.5" y="1609.0"/><use href="#mc" x="785.6" y="1608.5"/><use href="#mc" x="795.7" y="1607.8"/><use href="#mc" x="805.8" y="1607.2"/><use href="#mc" x="815.9" y="1606.5"/><use href="#mc" x="826.0" y="1605.7"/><use href="#mc" x="836.1" y="1604.9"/><use href="#mc" x="846.2" y="1604.1"/><use href="#mc" x="856.3" y="1603.1"/><use href="#mc" x="866.4" y="1602.2"/><use href="#mc" x="876.5" y="1601.1"/><use href="#mc" x="886.6" y="1600.1"/><use href="#mc" x="896.7" y="1598.9"/><use href="#mc" x="906.8" y="1597.7"/><use href="#mc" x="916.9" y="1596.3"/><use href="#mc" x="927.0" y="1594.8"/><use href="#mc" x="937.1" y="1593.1"/><use href="#mc" x="947.2" y="1591.1"/><use href="#mc" x="957.3" y="1588.9"/><use href="#mc" x="967.4" y="1586.2"/><use href="#mc" x="977.5" y="1582.7"/><use href="#mc" x="987.6" y="1579.4"/><use href="#mc" x="997.7" y="1574.5"/><use href="#mc" x="1007.8" y="1569.8"/><use href="#mc" x="1017.9" y="1563.4"/><use href="#mc" x="1028.0" y="1556.0"/><use href="#mc" x="1038.1" y="1547.2"/><use href="#mc" x="1048.2" y="1533.7"/><use href="#mc" x="1058.3" y="1516.0"/><use href="#mc" x="1068.4" y="1496.6"/><use href="#mc" x="1078.5" y="1468.8"/><use href="#mc" x="1088.6" y="1429.2"/><use href="#mc" x="1098.7" y="1373.6"/><use href="#mc" x="1108.8" y="1284.8"/><use href="#mc" x="1118.9" y="1124.7"/><use href="#mc" x="1129.0" y="1014.7"/><use href="#mc" x="1139.1" y="958.7"/><use href="#mc" x="1149.2" y="931.7"/><use href="#mc" x="1159.3" y="931.7"/><use href="#mc" x="1169.4" y="958.7"/><use href="#mc" x="1179.5" y="1014.7"/><use href="#mc" x="1189.6" y="1124.7"/><use href="#mc" x="1199.7" y="1284.8"/><use href="#mc" x="1209.8" y="1373.6"/><use href="#mc" x="1219.9" y="1429.2"/><use href="#mc" x="1230.0" y="1468.8"/><use href="#mc" x="1240.1" y="1497.7"/><use href="#mc" x="1250.2" y="1519.0"/><use href="#mc" x="1260.3" y="1537.0"/><use href="#mc" x="1270.4" y="1549.9"/><use href="#mc" x="1280.5" y="1558.6"/><use href="#mc" x="1290.6" y="1565.6"/><use href="#mc" x="1300.7" y="1571.4"/><use href="#mc" x="1310.8" y="1576.4"/><use href="#mc" x="1320.9" y="1580.9"/><use href="#mc" x="1331.0" y="1584.2"/><use href="#mc" x="1341.1" y="1587.3"/><use href="#mc" x="1351.2" y="1589.8"/><use href="#mc" x="1361.3" y="1591.9"/><use href="#mc" x="1371.4" y="1593.7"/><use href="#mc" x="1381.5" y="1595.4"/><use href="#mc" x="1391.6" y="1596.8"/><use href="#mc" x="1401.7" y="1598.1"/><use href="#mc" x="1411.8" y="1599.3"/><use href="#mc" x="1421.9" y="1600.4"/><use href="#mc" x="1432.0" y="1601.5"/><use href="#mc" x="1442.1" y="1602.4"/><use href="#mc" x="1452.2" y="1603.4"/><use href="#mc" x="1462.3" y="1604.3"/><use href="#mc" x="1472.4" y="1605.1"/><use href="#mc" x="1482.5" y="1605.9"/><use href="#mc" x="1492.6" y="1606.6"/><use href="#mc" x="1502.7" y="1607.3"/><use href="#mc" x="1512.8" y="1608.0"/><use href="#mc" x="1522.9" y="1608.6"/><use href="#mc" x="1533.0" y="1609.2"/><use href="#mc" x="1543.1" y="1609.8"/><use href="#mc" x="1553.2" y="1610.3"/><use href="#mc" x="1563.3" y="1610.8"/><use href="#mc" x="1573.4" y="1611.3"/><use href="#mc" x="1583.5" y="1611.7"/><use href="#mc" x="1593.6" y="1612.1"/><use href="#mc" x="1603.7" y="1612.6"/><use href="#mc" x="1613.8" y="1613.0"/><use href="#mc" x="1623.9" y="1613.3"/><use href="#mc" x="1634.0" y="1613.7"/><use href="#mc" x="1644.1" y="1614.0"/><use href="#mc" x="1654.2" y="1614.4"/><use href="#mc" x="1664.3" y="1614.7"/><use href="#mc" x="1674.4" y="1615.0"/><use href="#mc" x="1684.5" y="1615.3"/><use href="#mc" x="1694.6" y="1615.6"/><use href="#mc" x="1704.7" y="1615.8"/><use href="#mc" x="1714.8" y="1616.1"/><use href="#mc" x="1724.9" y="1616.3"/><use href="#mc" x="1735.0" y="1616.6"/><use href="#mc" x="1745.1" y="1616.8"/><use href="#mc" x="1755.2" y="1617.0"/><use href="#mc" x="1765.3" y="1617.3"/><use href="#mc" x="1775.4" y="1617.5"/><use href="#mc" x="1785.5" y="1617.7"/><use href="#mc" x="1795.6" y="1617.9"/><use href="#mc" x="1805.7" y="1618.0"/><use href="#mc" x="1815.8" y="1618.2"/><use href="#mc" x="1825.9" y="1618.4"/><use href="#mc" x="1836.0" y="1618.6"/><use href="#mc" x="1846.1" y="1618.7"/><use href="#mc" x="1856.2" y="1618.9"/><use href="#mc" x="1866.3" y="1619.1"/><use href="#mc" x="1876.4" y="1619.2"/><use href="#mc" x="1886.5" y="1619.4"/><use href="#mc" x="1896.6" y="1619.5"/><use href="#mc" x="1906.7" y="1619.7"/><use href="#mc" x="1916.8" y="1619.8"/><use href="#mc" x="1926.9" y="1619.9"/><use href="#mc" x="1937.0" y="1620.0"/><use href="#mc" x="1947.1" y="1620.2"/><use href="#mc" x="1957.2" y="1620.3"/><use href="#mc" x="1967.3" y="1620.4"/><use href="#mc" x="1977.4" y="1620.5"/><use href="#mc" x="1987.5" y="1620.6"/><use href="#mc" x="1997.6" y="1620.8"/><use href="#mc" x="2007.7" y="1620.9"/><use href="#mc" x="2017.8" y="1621.0"/><use href="#mc" x="2027.9" y="1621.1"/><use href="#mc" x="2038.0" y="1621.2"/><use href="#mc" x="2048.1" y="1621.3"/><use href="#mc" x="2058.2" y="1621.4"/>
<polyline points="250.3,1621.4 260.4,1621.3 270.5,1621.2 280.6,1621.1 290.7,1621.0 300.8,1620.9 310.9,1620.8 321.0,1620.6 331.1,1620.5 341.2,1620.4 351.3,1620.3 361.4,1620.2 371.5,1620.1 381.6,1619.9 391.7,1619.8 401.8,1619.7 411.9,1619.5 422.0,1619.4 432.1,1619.2 442.2,1619.1 452.3,1618.9 462.4,1618.8 472.5,1618.6 482.6,1618.4 492.7,1618.3 502.8,1618.1 512.9,1617.9 523.0,1617.7 533.1,1617.5 543.2,1617.3 553.3,1617.1 563.4,1616.9 573.5,1616.6 583.6,1616.4 593.7,1616.1 603.8,1615.9 613.9,1615.6 624.0,1615.3 634.1,1615.1 644.2,1614.8 654.3,1614.4 664.4,1614.1 674.5,1613.8 684.6,1613.4 694.7,1613.1 704.8,1612.7 714.9,1612.3 725.0,1611.8 735.1,1611.4 745.2,1610.9 755.3,1610.4 765.4,1609.9 775.5,1609.3 785.6,1608.7 795.7,1608.1 805.8,1607.5 815.9,1606.8 826.0,1606.1 836.1,1605.3 846.2,1604.5 856.3,1603.6 866.4,1602.7 876.5,1601.7 886.6,1600.7 896.7,1599.6 906.8,1598.5 916.9,1597.2 927.0,1595.8 937.1,1594.3 947.2,1592.6 957.3,1590.6 967.4,1588.3 977.5,1585.5 987.6,1582.1 997.7,1578.0 1007.8,1572.8 1017.9,1567.4 1028.0,1560.8 1038.1,1552.1 1048.2,1540.7 1058.3,1526.2 1068.4,1507.1 1078.5,1480.9 1088.6,1444.5 1098.7,1393.7 1108.8,1317.2 1118.9,1190.5 1129.0,954.7 1139.1,454.1 1149.2,215.1 1159.3,215.1 1169.4,454.1 1179.5,954.7 1189.6,1190.5 1199.7,1317.2 1209.8,1393.7 1219.9,1444.5 1230.0,1480.9 1240.1,1507.1 1250.2,1526.2 1260.3,1540.7 1270.4,1552.1 1280.5,1560.8 1290.6,1567.4 1300.7,1572.8 1310.8,1578.0 1320.9,1582.1 1331.0,1585.5 1341.1,1588.3 1351.2,1590.6 1361.3,1592.6 1371.4,1594.3 1381.5,1595.8 1391.6,1597.2 1401.7,1598.5 1411.8,1599.6 1421.9,1600.7 1432.0,1601.7 1442.1,1602.7 1452.2,1603.6 1462.3,1604.5 1472.4,1605.3 1482.5,1606.1 1492.6,1606.8 1502.7,1607.5 1512.8,1608.1 1522.9,1608.7 1533.0,1609.3 1543.1,1609.9 1553.2,1610.4 1563.3,1610.9 1573.4,1611.4 1583.5,1611.8 1593.6,1612.3 1603.7,1612.7 1613.8,1613.1 1623.9,1613.4 1634.0,1613.8 1644.1,1614.1 1654.2,1614.4 1664.3,1614.8 1674.4,1615.1 1684.5,1615.3 1694.6,1615.6 1704.7,1615.9 1714.8,1616.1 1724.9,1616.4 1735.0,1616.6 1745.1,1616.9 1755.2,1617.1 1765.3,1617.3 1775.4,1617.5 1785.5,1617.7 1795.6,1617.9 1805.7,1618.1 1815.8,1618.3 1825.9,1618.4 1836.0,1618.6 1846.1,1618.8 1856.2,1618.9 1866.3,1619.1 1876.4,1619.2 1886.5,1619.4 1896.6,1619.5 1906.7,1619.7 1916.8,1619.8 1926.9,1619.9 1937.0,1620.1 1947.1,1620.2 1957.2,1620.3 1967.3,1620.4 1977.4,1620.5 1987.5,1620.6 1997.6,1620.8 2007.7,1620.9 2017.8,1621.0 2027.9,1621.1 2038.0,1621.2 2048.1,1621.3 2058.2,1621.4" stroke="#0000ff" stroke-width="9.2"/>
<use href="#mx" x="250.3" y="1621.4"/><use href="#mx" x="260.4" y="1621.3"/><use href="#mx" x="270.5" y="1621.2"/><use href="#mx" x="280.6" y="1621.1"/><use href="#mx" x="290.7" y="1621.0"/><use href="#mx" x="300.8" y="1620.9"/><use href="#mx" x="310.9" y="1620.8"/><use href="#mx" x="321.0" y="1620.6"/><use href="#mx" x="331.1" y="1620.5"/><use href="#mx" x="341.2" y="1620.4"/><use href="#mx" x="351.3" y="1620.3"/><use href="#mx" x="361.4" y="1620.2"/><use href="#mx" x="371.5" y="1620.1"/><use href="#mx" x="381.6" y="1619.9"/><use href="#mx" x="391.7" y="1619.8"/><use href="#mx" x="401.8" y="1619.7"/><use href="#mx" x="411.9" y="1619.5"/><use href="#mx" x="422.0" y="1619.4"/><use href="#mx" x="432.1" y="1619.2"/><use href="#mx" x="442.2" y="1619.1"/><use href="#mx" x="452.3" y="1618.9"/><use href="#mx" x="462.4" y="1618.8"/><use href="#mx" x="472.5" y="1618.6"/><use href="#mx" x="482.6" y="1618.4"/><use href="#mx" x="492.7" y="1618.3"/><use href="#mx" x="502.8" y="1618.1"/><use href="#mx" x="512.9" y="1617.9"/><use href="#mx" x="523.0" y="1617.7"/><use href="#mx" x="533.1" y="1617.5"/><use href="#mx" x="543.2" y="1617.3"/><use href="#mx" x="553.3" y="1617.1"/><use href="#mx" x="563.4" y="1616.9"/><use href="#mx" x="573.5" y="1616.6"/><use href="#mx" x="583.6" y="1616.4"/><use href="#mx" x="593.7" y="1616.1"/><use href="#mx" x="603.8" y="1615.9"/><use href="#mx" x="613.9" y="1615.6"/><use href="#mx" x="624.0" y="1615.3"/><use href="#mx" x="634.1" y="1615.1"/><use href="#mx" x="644.2" y="1614.8"/><use href="#mx" x="654.3" y="1614.4"/><use href="#mx" x="664.4" y="1614.1"/><use href="#mx" x="674.5" y="1613.8"/><use href="#mx" x="684.6" y="1613.4"/><use href="#mx" x="694.7" y="1613.1"/><use href="#mx" x="704.8" y="1612.7"/><use href="#mx" x="714.9" y="1612.3"/><use href="#mx" x="725.0" y="1611.8"/><use href="#mx" x="735.1" y="1611.4"/><use href="#mx" x="745.2" y="1610.9"/><use href="#mx" x="755.3" y="1610.4"/><use href="#mx" x="765.4" y="1609.9"/><use href="#mx" x="775.5" y="1609.3"/><use href="#mx" x="785.6" y="1608.7"/><use href="#mx" x="795.7" y="1608.1"/><use href="#mx" x="805.8" y="1607.5"/><use href="#mx" x="815.9" y="1606.8"/><use href="#mx" x="826.0" y="1606.1"/><use href="#mx" x="836.1" y="1605.3"/><use href="#mx" x="846.2" y="1604.5"/><use href="#mx" x="856.3" y="1603.6"/><use href="#mx" x="866.4" y="1602.7"/><use href="#mx" x="876.5" y="1601.7"/><use href="#mx" x="886.6" y="1600.7"/><use href="#mx" x="896.7" y="1599.6"/><use href="#mx" x="906.8" y="1598.5"/><use href="#mx" x="916.9" y="1597.2"/><use href="#mx" x="927.0" y="1595.8"/><use href="#mx" x="937.1" y="1594.3"/><use href="#mx" x="947.2" y="1592.6"/><use href="#mx" x="957.3" y="1590.6"/><use href="#mx" x="967.4" y="1588.3"/><use href="#mx" x="977.5" y="1585.5"/><use href="#mx" x="987.6" y="1582.1"/><use href="#mx" x="997.7" y="1578.0"/><use href="#mx" x="1007.8" y="1572.8"/><use href="#mx" x="1017.9" y="1567.4"/><use href="#mx" x="1028.0" y="1560.8"/><use href="#mx" x="1038.1" y="1552.1"/><use href="#mx" x="1048.2" y="1540.7"/><use href="#mx" x="1058.3" y="1526.2"/><use href="#mx" x="1068.4" y="1507.1"/><use href="#mx" x="1078.5" y="1480.9"/><use href="#mx" x="1088.6" y="1444.5"/><use href="#mx" x="1098.7" y="1393.7"/><use href="#mx" x="1108.8" y="1317.2"/><use href="#mx" x="1118.9" y="1190.5"/><use href="#mx" x="1129.0" y="954.7"/><use href="#mx" x="1139.1" y="454.1"/><use href="#mx" x="1149.2" y="215.1"/><use href="#mx" x="1159.3" y="215.1"/><use href="#mx" x="1169.4" y="454.1"/><use href="#mx" x="1179.5" y="954.7"/><use href="#mx" x="1189.6" y="1190.5"/><use href="#mx" x="1199.7" y="1317.2"/><use href="#mx" x="1209.8" y="1393.7"/><use href="#mx" x="1219.9" y="1444.5"/><use href="#mx" x="1230.0" y="1480.9"/><use href="#mx" x="1240.1" y="1507.1"/><use href="#mx" x="1250.2" y="1526.2"/><use href="#mx" x="1260.3" y="1540.7"/><use href="#mx" x="1270.4" y="1552.1"/><use href="#mx" x="1280.5" y="1560.8"/><use href="#mx" x="1290.6" y="1567.4"/><use href="#mx" x="1300.7" y="1572.8"/><use href="#mx" x="1310.8" y="1578.0"/><use href="#mx" x="1320.9" y="1582.1"/><use href="#mx" x="1331.0" y="1585.5"/><use href="#mx" x="1341.1" y="1588.3"/><use href="#mx" x="1351.2" y="1590.6"/><use href="#mx" x="1361.3" y="1592.6"/><use href="#mx" x="1371.4" y="1594.3"/><use href="#mx" x="1381.5" y="1595.8"/><use href="#mx" x="1391.6" y="1597.2"/><use href="#mx" x="1401.7" y="1598.5"/><use href="#mx" x="1411.8" y="1599.6"/><use href="#mx" x="1421.9" y="1600.7"/><use href="#mx" x="1432.0" y="1601.7"/><use href="#mx" x="1442.1" y="1602.7"/><use href="#mx" x="1452.2" y="1603.6"/><use href="#mx" x="1462.3" y="1604.5"/><use href="#mx" x="1472.4" y="1605.3"/><use href="#mx" x="1482.5" y="1606.1"/><use href="#mx" x="1492.6" y="1606.8"/><use href="#mx" x="1502.7" y="1607.5"/><use href="#mx" x="1512.8" y="1608.1"/><use href="#mx" x="1522.9" y="1608.7"/><use href="#mx" x="1533.0" y="1609.3"/><use href="#mx" x="1543.1" y="1609.9"/><use href="#mx" x="1553.2" y="1610.4"/><use href="#mx" x="1563.3" y="1610.9"/><use href="#mx" x="1573.4" y="1611.4"/><use href="#mx" x="1583.5" y="1611.8"/><use href="#mx" x="1593.6" y="1612.3"/><use href="#mx" x="1603.7" y="1612.7"/><use href="#mx" x="1613.8" y="1613.1"/><use href="#mx" x="1623.9" y="1613.4"/><use href="#mx" x="1634.0" y="1613.8"/><use href="#mx" x="1644.1" y="1614.1"/><use href="#mx" x="1654.2" y="1614.4"/><use href="#mx" x="1664.3" y="1614.8"/><use href="#mx" x="1674.4" y="1615.1"/><use href="#mx" x="1684.5" y="1615.3"/><use href="#mx" x="1694.6" y="1615.6"/><use href="#mx" x="1704.7" y="1615.9"/><use href="#mx" x="1714.8" y="1616.1"/><use href="#mx" x="1724.9" y="1616.4"/><use href="#mx" x="1735.0" y="1616.6"/><use href="#mx" x="1745.1" y="1616.9"/><use href="#mx" x="1755.2" y="1617.1"/><use href="#mx" x="1765.3" y="1617.3"/><use href="#mx" x="1775.4" y="1617.5"/><use href="#mx" x="1785.5" y="1617.7"/><use href="#mx" x="1795.6" y="1617.9"/><use href="#mx" x="1805.7" y="1618.1"/><use href="#mx" x="1815.8" y="1618.3"/><use href="#mx" x="1825.9" y="1618.4"/><use href="#mx" x="1836.0" y="1618.6"/><use href="#mx" x="1846.1" y="1618.8"/><use href="#mx" x="1856.2" y="1618.9"/><use href="#mx" x="1866.3" y="1619.1"/><use href="#mx" x="1876.4" y="1619.2"/><use href="#mx" x="1886.5" y="1619.4"/><use href="#mx" x="1896.6" y="1619.5"/><use href="#mx" x="1906.7" y="1619.7"/><use href="#mx" x="1916.8" y="1619.8"/><use href="#mx" x="1926.9" y="1619.9"/><use href="#mx" x="1937.0" y="1620.1"/><use href="#mx" x="1947.1" y="1620.2"/><use href="#mx" x="1957.2" y="1620.3"/><use href="#mx" x="1967.3" y="1620.4"/><use href="#mx" x="1977.4" y="1620.5"/><use href="#mx" x="1987.5" y="1620.6"/><use href="#mx" x="1997.6" y="1620.8"/><use href="#mx" x="2007.7" y="1620.9"/><use href="#mx" x="2017.8" y="1621.0"/><use href="#mx" x="2027.9" y="1621.1"/><use href="#mx" x="2038.0" y="1621.2"/><use href="#mx" x="2048.1" y="1621.3"/><use href="#mx" x="2058.2" y="1621.4"/>
</g>
<g stroke="#000" fill="none" stroke-linecap="butt">
<line x1="240.5" y1="51" x2="240.5" y2="1632.6000000000001" stroke-width="8.6"/>
<line x1="2057.8" y1="51" x2="2057.8" y2="1632.6000000000001" stroke-width="9.2"/>
<line x1="241" y1="50.1" x2="2058" y2="50.1" stroke-width="8.4"/>
<line x1="236.2" y1="1628.4" x2="2062.4" y2="1628.4" stroke-width="8.4"/>
</g>
<rect x="1233.5" y="65" width="960" height="319.5" fill="#fefefe"/>
<g fill="none">
<line x1="1268.2" y1="115.2" x2="1420.2" y2="115.2" stroke="#ffe2ff" stroke-width="9.6"/>
<line x1="1268.2" y1="115.2" x2="1420.2" y2="115.2" stroke="#ffc8ff" stroke-width="9.6" stroke-dasharray="4 2"/>
<line x1="1268.2" y1="188.4" x2="1420.2" y2="188.4" stroke="#d4d4d4" stroke-width="9"/>
<line x1="1269.2" y1="188.4" x2="1420.2" y2="188.4" stroke="#000" stroke-width="9" stroke-dasharray="6.2 5"/>
<rect x="1338.3" y="183" width="16" height="10.8" fill="#000"/>
<line x1="1272.2" y1="260.8" x2="1420.2" y2="260.8" stroke="#ff0000" stroke-width="9.4" stroke-dasharray="6 2.9"/>
<use href="#mc" x="1344.2" y="260.7"/>
<line x1="1269.4" y1="334" x2="1419.8" y2="334" stroke="#0000ff" stroke-width="10"/>
<use href="#mx" x="1344.2" y="334.4"/>
</g>
<g font-weight="bold" font-size="50">
<text x="1435.4" y="133.9" textLength="748.5" lengthAdjust="spacingAndGlyphs">radius:56km,thick:0.063m,-0.62GT</text>
<text x="1435.4" y="206.0" textLength="724.5" lengthAdjust="spacingAndGlyphs">radius:28km,thick:0.25m,-0.62GT</text>
<text x="1435.4" y="279.0" textLength="662" lengthAdjust="spacingAndGlyphs">radius:14km,thick:1m,-0.62GT</text>
<text x="1435.4" y="352.4" textLength="638" lengthAdjust="spacingAndGlyphs">radius:7km,thick:4m,-0.62GT</text>
</g>
<g font-size="80">
<text x="223.6" y="1656.4" text-anchor="end" textLength="38.6" lengthAdjust="spacingAndGlyphs">0</text>
<text x="223.6" y="1430.9" text-anchor="end" textLength="96.5" lengthAdjust="spacingAndGlyphs">0.5</text>
<text x="223.6" y="1205.5" text-anchor="end" textLength="38.6" lengthAdjust="spacingAndGlyphs">1</text>
<text x="223.6" y="980.0" text-anchor="end" textLength="96.5" lengthAdjust="spacingAndGlyphs">1.5</text>
<text x="223.6" y="754.5" text-anchor="end" textLength="38.6" lengthAdjust="spacingAndGlyphs">2</text>
<text x="223.6" y="529.0" text-anchor="end" textLength="96.5" lengthAdjust="spacingAndGlyphs">2.5</text>
<text x="223.6" y="303.6" text-anchor="end" textLength="38.6" lengthAdjust="spacingAndGlyphs">3</text>
<text x="223.6" y="78.1" text-anchor="end" textLength="96.5" lengthAdjust="spacingAndGlyphs">3.5</text>
<text x="250.5" y="1712.3" text-anchor="middle" textLength="115.8" lengthAdjust="spacingAndGlyphs">166</text>
<text x="552.2" y="1712.3" text-anchor="middle" textLength="115.8" lengthAdjust="spacingAndGlyphs">111</text>
<text x="855.3" y="1712.3" text-anchor="middle" textLength="77.2" lengthAdjust="spacingAndGlyphs">55</text>
<text x="1159.1" y="1712.3" text-anchor="middle" textLength="38.6" lengthAdjust="spacingAndGlyphs">0</text>
<text x="1461.6" y="1712.3" text-anchor="middle" textLength="77.2" lengthAdjust="spacingAndGlyphs">55</text>
<text x="1764.8" y="1712.3" text-anchor="middle" textLength="115.8" lengthAdjust="spacingAndGlyphs">111</text>
<text x="2057.8" y="1712.3" text-anchor="middle" textLength="115.8" lengthAdjust="spacingAndGlyphs">166</text>
<text x="1147.8" y="1798" text-anchor="middle" textLength="402" lengthAdjust="spacingAndGlyphs">Distance/km</text>
<text transform="translate(88.3,840.6) rotate(-90)" text-anchor="middle" textLength="759" lengthAdjust="spacingAndGlyphs">Load Displacement/mm</text>
</g>
</svg></body></html>
